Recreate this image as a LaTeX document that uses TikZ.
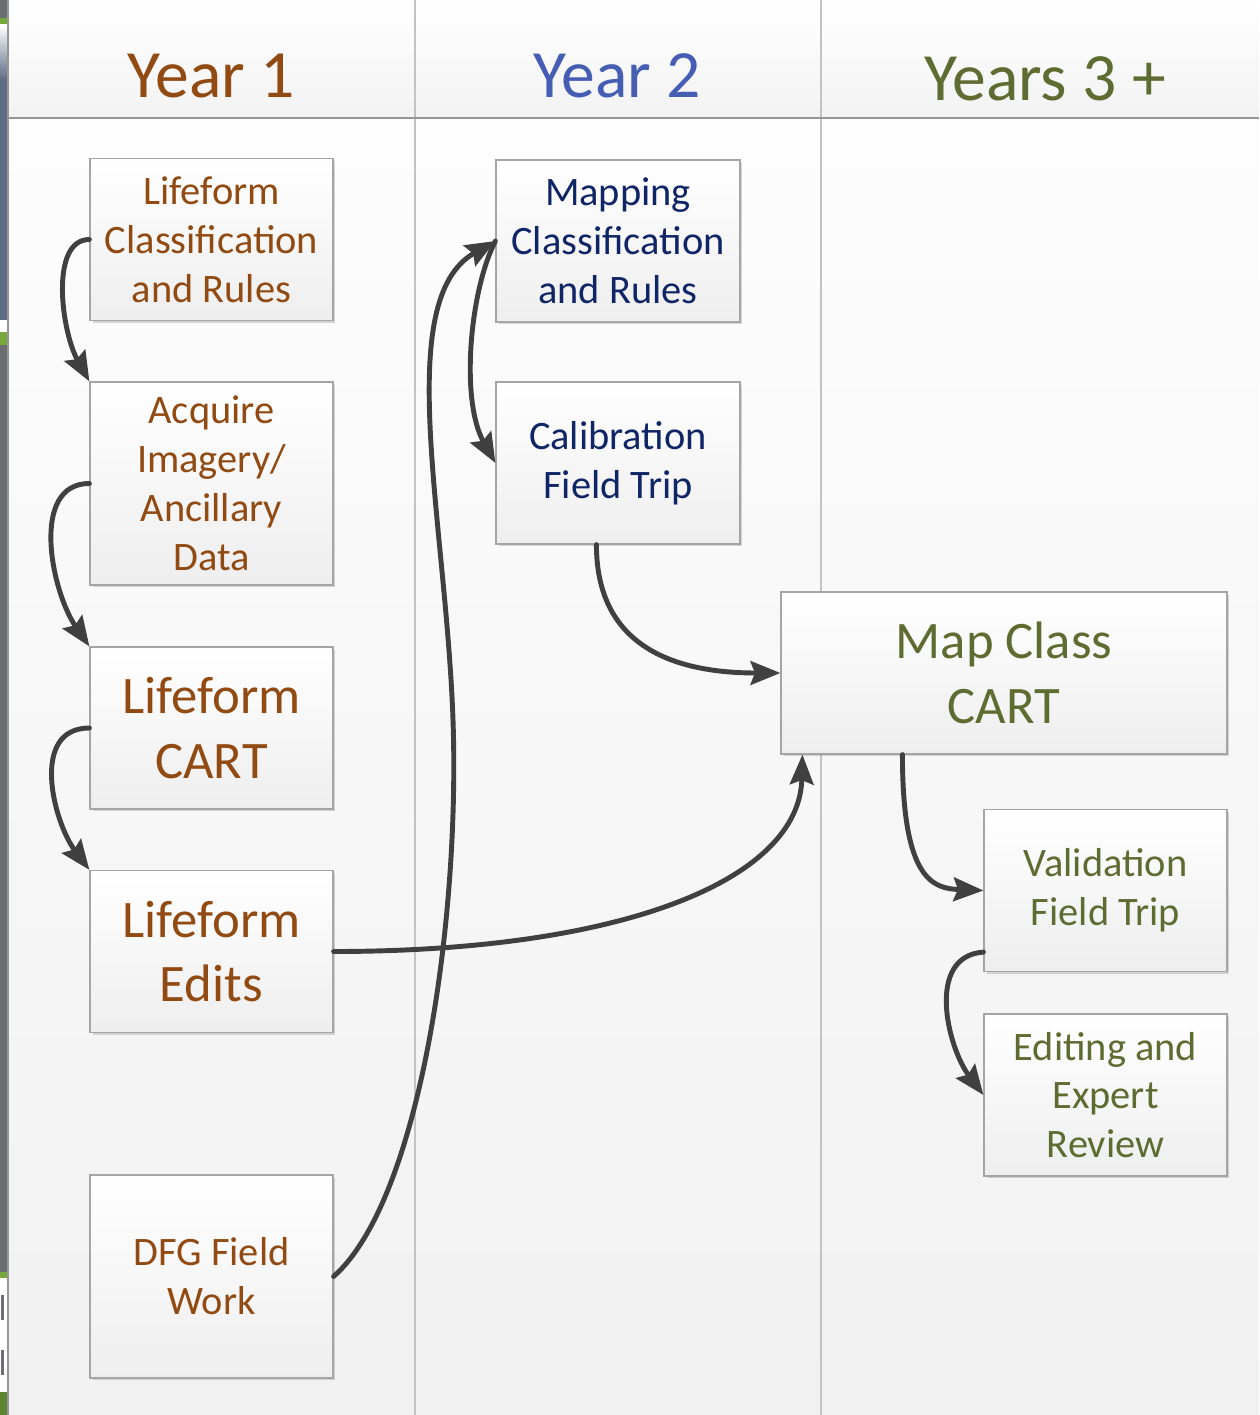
\documentclass[tikz,border=0pt]{standalone}
\usepackage{fontspec}
\setmainfont{Carlito}
\usetikzlibrary{arrows.meta,shadows,calc}
\definecolor{brownc}{RGB}{144,74,18}
\definecolor{hblue}{RGB}{70,93,180}
\definecolor{navy}{RGB}{16,37,102}
\definecolor{olive}{RGB}{94,108,50}
\definecolor{arrowc}{RGB}{64,64,64}
\definecolor{colline}{RGB}{195,195,195}
\definecolor{hline}{RGB}{150,150,150}
\definecolor{boxborder}{RGB}{165,165,165}
\definecolor{boxbot}{RGB}{238,238,238}
\definecolor{bgtop}{RGB}{253,253,253}
\definecolor{bgbot}{RGB}{241,241,241}
\definecolor{stripgray}{RGB}{108,109,113}
\definecolor{stripgreen}{RGB}{118,168,60}
\definecolor{stripphoto}{RGB}{92,108,132}
\tikzset{
  box/.style={draw=boxborder, line width=0.7pt, top color=white, bottom color=boxbot,
    minimum width=4.86cm, minimum height=3.24cm, inner sep=0pt, align=center,
    drop shadow={shadow xshift=0.05cm, shadow yshift=-0.05cm, opacity=0.25, fill=black!60}},
  small/.style={font=\fontsize{23}{27.8}\selectfont},
  big/.style={font=\fontsize{30}{36.9}\selectfont},
  header/.style={font=\fontsize{38.5}{44}\selectfont, inner sep=0pt},
  arr/.style={draw=arrowc, line width=2.8pt, line cap=round,
    -{Stealth[length=17pt,width=13.5pt,inset=2.5pt]}}
}
\begin{document}
\begin{tikzpicture}[x=0.02cm,y=-0.02cm]
\useasboundingbox (0,0) rectangle (1259,1415);
% background
\shade[top color=white, bottom color=bgbot!90] (8,0) rectangle (1259,118);
\shade[top color=bgtop, bottom color=bgbot] (8,118) rectangle (1259,1415);
% left strip
\fill[stripgray] (0,0) rectangle (8,1415);
\fill[stripgreen] (0,18) rectangle (8,25);
\shade[top color=white, bottom color=stripphoto] (0,25) rectangle (8,80);
\fill[stripphoto] (0,80) rectangle (8,320);
\fill[white] (0,320) rectangle (8,332);
\fill[stripgreen] (0,332) rectangle (8,345);
\fill[stripgreen] (0,1272) rectangle (8,1278);
\fill[white] (0,1278) rectangle (8,1392);
\fill[stripgray] (1,1295) rectangle (4,1320);
\fill[stripgray] (1,1350) rectangle (4,1375);
\fill[stripgreen!80!black] (0,1392) rectangle (8,1415);
\draw[hline, line width=0.6pt] (8,0) -- (8,1415);
% column lines
\draw[colline, line width=1pt] (415,0) -- (415,1415);
\draw[colline, line width=1pt] (821,0) -- (821,1415);
\draw[hline, line width=0.8pt] (8,118) -- (1259,118);
% headers
\node[header, text=brownc] (h1) at (211,76) {Year 1};
\node[header, text=hblue] (h2) at (617,76) {Year 2};
\node[header, text=olive] (h3) at (1045,79) {Years 3 +};
% boxes
\node[box, small, text=brownc] (A) at (211.5,239.5) {Lifeform\\Classification\\and Rules};
\node[box, small, text=brownc, minimum height=4.06cm] (B) at (211.5,483.5) {Acquire\\Imagery/\\Ancillary\\Data};
\node[box, big, text=brownc] (C) at (211.5,728) {Lifeform\\CART};
\node[box, big, text=brownc] (D) at (211.5,951.5) {Lifeform\\Edits};
\node[box, small, text=brownc, minimum height=4.06cm] (E) at (211.5,1276.5) {DFG Field\\Work};
\node[box, small, text=navy, minimum width=4.88cm] (F) at (618,241) {Mapping\\Classification\\and Rules};
\node[box, small, text=navy, minimum width=4.88cm] (G) at (618,463) {Calibration\\Field Trip};
\node[box, big, text=olive, minimum width=8.92cm] (H) at (1004,673) {Map Class\\CART};
\node[box, small, text=olive] (I) at (1105.5,890.5) {Validation\\Field Trip};
\node[box, small, text=olive] (J) at (1105.5,1095) {Editing and\\Expert\\Review};
% connectors
\draw[arr] (A.west) .. controls +(-40,0) and +(-28,-50) .. (B.north west);
\draw[arr] (B.west) .. controls +(-60,0) and +(-38,-55) .. (C.north west);
\draw[arr] (C.west) .. controls +(-60,0) and +(-36,-48) .. (D.north west);
\draw[arr] (D.east) .. controls +(290,0) and +(-3,125) .. ($(H.south west)+(22,0)$);
\draw[arr] (E.east) .. controls (420,1200) and (460,920) .. (453,720)
                    .. controls (446,520) and (392,300) .. (F.west);
\draw[arr] (F.west) .. controls (470,290) and (460,400) .. (G.west);
\draw[arr] ($(G.south west)+(101,0)$) .. controls +(0,106) and +(-100,0) .. (H.west);
\draw[arr] ($(H.south west)+(122,0)$) .. controls +(0,126) and +(-50,-2) .. (I.west);
\draw[arr] ($(I.south west)+(0,-20)$) .. controls +(-58,4) and +(-36,-48) .. (J.west);
\end{tikzpicture}
\end{document}
